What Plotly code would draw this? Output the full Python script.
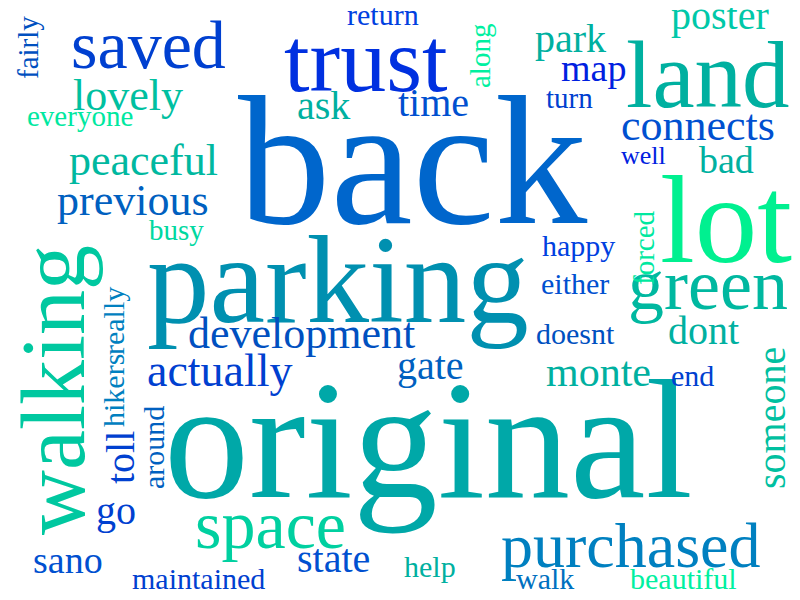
import plotly.graph_objects as go

words = ["back","original","parking","lot","walking","land","trust","saved","green","space","purchased",
 "development","actually","peaceful","previous","lovely","connects","poster","park","map","time","ask",
 "return","along","turn","everyone","fairly","well","bad","busy","happy","forced","either","doesnt","dont",
 "someone","monte","end","gate","hikers","really","toll","around","go","sano","maintained","state","help","walk","beautiful"]
xs = [405,420,330,718,45,700,358,140,700,262,622,293,212,135,125,120,690,712,562,585,425,315,375,472,561,72,20,635,718,168,570,636,567,567,695,763,590,684,422,105,105,112,145,108,60,190,325,422,537,675]
ys = [152,432,272,212,382,67,52,37,277,517,537,325,362,152,192,87,117,7,30,60,94,97,6,48,90,108,40,147,152,222,237,240,275,325,322,410,364,367,357,383,313,450,440,502,552,570,550,558,570,570]
sizes = [185,170,125,125,90,95,92,68,72,68,64,44,46,44,44,44,44,40,40,38,40,40,30,29,29,29,29,26,38,29,30,29,30,30,40,40,42,30,40,30,30,40,30,40,38,30,40,30,30,30]
colors = ["#0066cc","#00a8a8","#0090b0","#00f090","#00c8a0","#00b0a0","#0030e0","#0040d0","#00b8a0","#00d0a0","#0080c0",
 "#0050c0","#0040d0","#00b8a0","#0060c0","#00c0a0","#0050d0","#00c8a8","#00b0a0","#0020e0","#0050d0","#00b0a0",
 "#0040e0","#00f0a0","#0040d0","#00e8a0","#0050c0","#0020e0","#00b0a0","#00d8a0","#0040e0","#00e8a0","#0050d0","#0050c0","#00b0a0",
 "#00c0a0","#00b0a0","#0040d0","#0060c0","#0080c0","#0080c0","#0040d0","#0060c0","#0040d0","#0050d0","#0040d0","#0050d0","#00b0a0","#0070c0","#00f0a0"]
vertical = {"walking","along","fairly","forced","someone","hikers","really","toll","around"}

fig = go.Figure()
fig.add_trace(go.Scatter(x=[0,800], y=[0,600], mode="markers", marker=dict(opacity=0), hoverinfo="skip"))
for w,x,y,s,c in zip(words,xs,ys,sizes,colors):
    fig.add_annotation(x=x, y=y, text=w, showarrow=False, textangle=-90 if w in vertical else 0,
        font=dict(family="Liberation Serif", size=s, color=c), xanchor="center", yanchor="middle")
fig.update_xaxes(range=[0,800], visible=False)
fig.update_yaxes(range=[600,0], visible=False)
fig.update_layout(width=800, height=600, margin=dict(l=0,r=0,t=0,b=0), plot_bgcolor="white",
    paper_bgcolor="white", showlegend=False)
fig.write_html("out.html")
